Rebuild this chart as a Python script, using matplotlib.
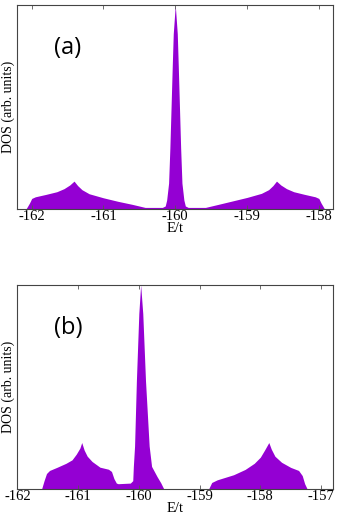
import matplotlib
matplotlib.use("Agg")
import matplotlib.pyplot as plt
import numpy as np

# panel (a): DOS vs E/t
E_a = [-162.08, -162.03, -162.0, -161.95, -161.8, -161.65, -161.55, -161.47,
       -161.41, -161.36, -161.3, -161.2, -161.0, -160.8, -160.6, -160.42,
       -160.18, -160.14, -160.12, -160.093, -160.075, -160.056, -160.042,
       -160.028, -160.0,
       -159.972, -159.958, -159.944, -159.925, -159.907, -159.88, -159.86,
       -159.82, -159.58, -159.4, -159.2,
       -159.0, -158.8, -158.7, -158.64, -158.59, -158.53, -158.45, -158.35,
       -158.2, -158.05, -158.0, -157.97, -157.92]
dos_a = [0.0, 0.03, 0.052, 0.06, 0.072, 0.085, 0.10, 0.118,
         0.137, 0.115, 0.095, 0.075, 0.055, 0.038, 0.023, 0.008,
         0.008, 0.015, 0.044, 0.127, 0.30, 0.53, 0.70,
         0.86, 1.0,
         0.86, 0.70, 0.53, 0.30, 0.127, 0.044, 0.015,
         0.008, 0.008, 0.023, 0.04,
         0.057, 0.077, 0.095, 0.115, 0.137, 0.118, 0.10, 0.085,
         0.072, 0.06, 0.052, 0.03, 0.0]

# panel (b)
E_b = [-161.6, -161.56, -161.52, -161.47, -161.35, -161.2, -161.1, -161.03,
       -160.97, -160.94, -160.9, -160.85, -160.77, -160.64, -160.5, -160.45,
       -160.41, -160.37, -160.34, -160.14, -160.1,
       -160.09, -160.07, -160.04, -160.0, -159.97, -159.935, -159.89, -159.83,
       -159.79, -159.70, -159.64, -159.59,
       -158.85, -158.80, -158.71, -158.44, -158.25, -158.1, -158.0, -157.93,
       -157.86, -157.82, -157.76, -157.65, -157.5, -157.37, -157.31, -157.27,
       -157.23]
dos_b = [0.0, 0.04, 0.075, 0.09, 0.105, 0.125, 0.142, 0.17,
         0.20, 0.227, 0.19, 0.16, 0.134, 0.106, 0.096, 0.085,
         0.05, 0.028, 0.025, 0.028, 0.04,
         0.11, 0.21, 0.53, 0.86, 1.0, 0.86, 0.53, 0.21,
         0.11, 0.06, 0.03, 0.0,
         0.0, 0.031, 0.044, 0.069, 0.095, 0.125, 0.155, 0.19,
         0.227, 0.195, 0.16, 0.13, 0.105, 0.09, 0.065, 0.025,
         0.0]

ticks_a = [-162, -161, -160, -159, -158]
ticks_b = [-162, -161, -160, -159, -158, -157]

purple = '#9400d3'
serif = ['Liberation Serif', 'DejaVu Serif']

fig = plt.figure(figsize=(3.4, 5.2), dpi=100)
ax1 = fig.add_axes([0.051, 0.598, 0.929, 0.392])
ax2 = fig.add_axes([0.051, 0.060, 0.929, 0.392])

panels = [(ax1, E_a, dos_a, ticks_a, (-162.2, -157.8), '(a)'),
          (ax2, E_b, dos_b, ticks_b, (-162.0, -156.8), '(b)')]

for ax, E, d, ticks, xl, lab in panels:
    ax.fill_between(E, 0, d, color=purple, linewidth=0)
    ax.set_xlim(*xl)
    ax.set_ylim(0, 1.0)
    ax.set_xticks(ticks)
    ax.set_xticklabels([str(t) for t in ticks], family=serif, fontsize=10.5)
    ax.set_yticks([])
    ax.tick_params(axis='x', direction='in', top=True, length=3, width=0.6,
                   pad=1, color='#555555')
    for s in ax.spines.values():
        s.set_linewidth(0.8)
        s.set_color('#444444')
    ax.set_xlabel('E/t', family=serif, fontsize=10.5, labelpad=-1)
    ax.set_ylabel('DOS (arb. units)', family=serif, fontsize=10, labelpad=2)
    ax.text(0.115, 0.76, lab, transform=ax.transAxes, fontsize=17,
            family=['Open Sans', 'DejaVu Sans'])

fig.savefig('out.png', dpi=100)
